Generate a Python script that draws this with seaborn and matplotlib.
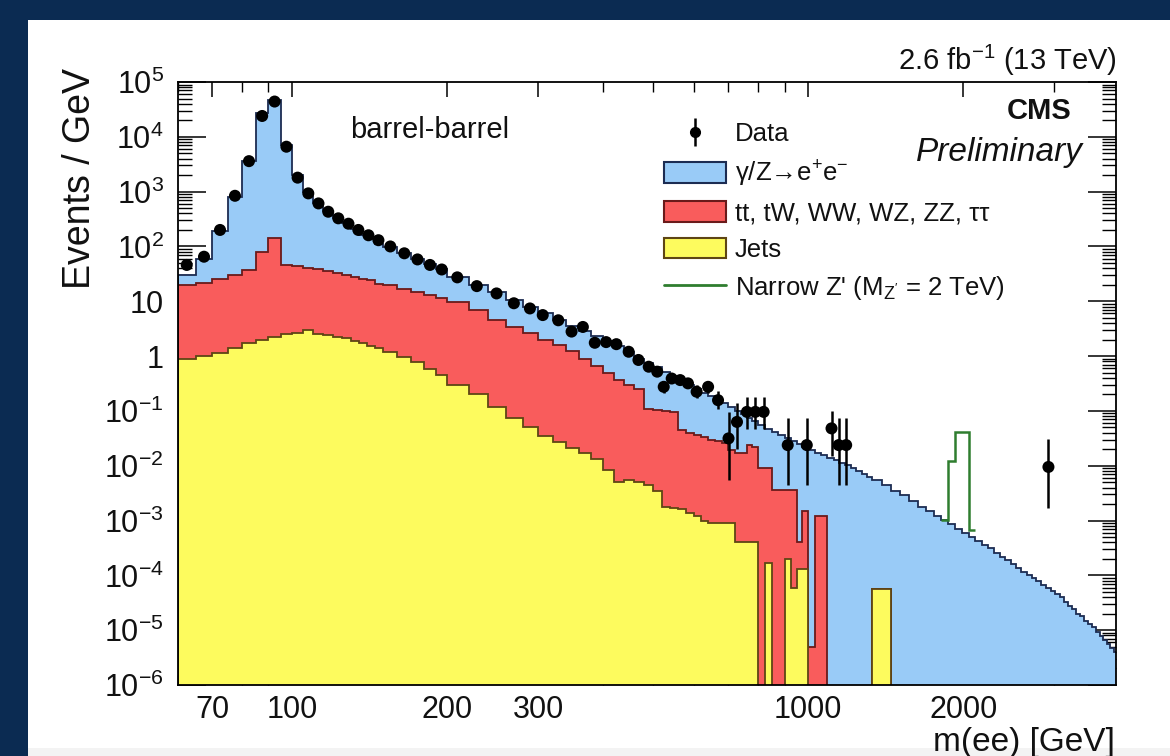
import numpy as np
import matplotlib
matplotlib.use("Agg")
import matplotlib.pyplot as plt
import seaborn as sns
from matplotlib.patches import Patch, Rectangle
from matplotlib.lines import Line2D
from matplotlib.ticker import FixedLocator, FuncFormatter, LogLocator, NullFormatter
from matplotlib.legend_handler import HandlerTuple

sns.set_style("ticks")
plt.rcParams['font.family'] = ['Liberation Sans', 'DejaVu Sans']
plt.rcParams['mathtext.fontset'] = 'custom'
plt.rcParams['mathtext.rm'] = 'Liberation Sans'
plt.rcParams['mathtext.it'] = 'Liberation Sans:italic'
plt.rcParams['mathtext.bf'] = 'Liberation Sans:bold'

# ---------------- data ----------------
# MC bin edges (GeV): 5 GeV to 150, 10 GeV to 200, 20 GeV to 800, 25 GeV to 1000, 30 GeV to 1330, 60 GeV above
bin_edges = np.concatenate([
    np.arange(60, 150, 5), np.arange(150, 200, 10), np.arange(200, 800, 20),
    np.arange(800, 1000, 25), np.arange(1000, 1330, 30), np.arange(1330, 3971, 60)]).astype(float)

# top of the stack: gamma/Z -> ee + ttbar-like + jets  (Events / GeV)
stack_top_dy = [
    30, 60, 190, 810, 3600, 27000, 47000, 7100, 2000, 1000, 620, 440, 330, 265, 205, 165, 135, 112,
    97, 75, 59, 47, 38,
    28, 20, 14.5, 10.5, 7.8, 6.0, 4.6, 3.6, 2.9, 2.3, 1.85, 1.5, 1.2, 0.90, 0.75, 0.62, 0.52, 0.43,
    0.36, 0.30, 0.25, 0.215, 0.185, 0.16, 0.138, 0.118, 0.101, 0.087, 0.075, 0.065,
    0.055, 0.047, 0.041, 0.036, 0.032, 0.028, 0.025, 0.022,
    0.019, 0.0172, 0.0155, 0.0140, 0.0126, 0.0113, 0.0101, 0.0090, 0.0080, 0.0071, 0.0063,
    5.5e-3, 4.4e-3, 3.5e-3, 2.9e-3, 2.3e-3, 1.8e-3, 1.5e-3, 1.23e-3, 1.02e-3, 8.5e-4, 7.1e-4,
    6.0e-4, 5.0e-4, 4.3e-4, 3.6e-4, 3.1e-4, 2.6e-4, 2.2e-4, 1.9e-4, 1.6e-4, 1.38e-4, 1.17e-4,
    1.02e-4, 8.9e-5, 7.8e-5, 6.8e-5, 5.9e-5, 5.1e-5, 4.5e-5, 4.0e-5, 3.3e-5, 2.8e-5, 2.4e-5,
    2.0e-5, 1.78e-5, 1.5e-5, 1.29e-5, 1.12e-5, 9.3e-6, 7.9e-6, 6.6e-6, 5.6e-6, 4.8e-6, 4.0e-6]

# top of ttbar, tW, WW, WZ, ZZ, tautau + jets
stack_top_ttbar = [
    20, 22, 25, 30, 37, 80, 145, 46, 44, 41, 38, 35, 33, 30, 28, 26, 24, 21,
    19.5, 17, 15, 13, 11.5,
    9.5, 7.0, 4.5, 3.4, 2.6, 2.0, 1.6, 1.25, 0.9, 0.65, 0.5, 0.36, 0.30, 0.25, 0.11, 0.105,
    0.098, 0.096, 0.045, 0.040, 0.036, 0.033, 0.030, 0.028, 0.026, 0.019, 0.017, 0.017, 0.024, 0.022,
    9e-3, 9e-3, 3.6e-3, 3.6e-3, 3.6e-3, 3.6e-3, 4e-4, 1.5e-3,
    5e-6, 1.2e-3, 1.2e-3, 0, 0, 0, 0, 0, 0, 0, 0,
    5.6e-5, 5.6e-5, 0, 0, 0, 0, 0, 0, 0, 0, 0, 0, 0, 0, 0, 0, 0, 0, 0, 0, 0, 0,
    0, 0, 0, 0, 0, 0, 0, 0, 0, 0, 0, 0, 0, 0, 0, 0, 0, 0, 0, 0, 0, 0]

# jets
stack_top_jets = [
    0.9, 1.0, 1.15, 1.4, 1.7, 2.0, 2.25, 2.5, 2.6, 3.0, 2.55, 2.4, 2.25, 2.1, 1.9, 1.75, 1.55, 1.4,
    1.2, 0.95, 0.78, 0.58, 0.45,
    0.30, 0.20, 0.12, 0.075, 0.05, 0.035, 0.027, 0.021, 0.017, 0.013, 0.0085, 0.0050, 0.0055,
    0.0050, 0.0045, 0.0035, 0.0018, 0.0017, 0.0016, 0.0014, 0.0012, 0.0010, 0.0009, 0.0009,
    0.0009, 0.0009, 0.0004, 0.0004, 0.0004, 0.0004,
    0, 1.7e-4, 0, 0, 2e-4, 5.8e-5, 1.3e-4, 1.3e-4,
    0, 0, 0, 0, 0, 0, 0, 0, 0, 0, 0,
    5.6e-5, 5.6e-5, 0, 0, 0, 0, 0, 0, 0, 0, 0, 0, 0, 0, 0, 0, 0, 0, 0, 0, 0, 0,
    0, 0, 0, 0, 0, 0, 0, 0, 0, 0, 0, 0, 0, 0, 0, 0, 0, 0, 0, 0, 0, 0]

# narrow Z' (2 TeV) signal, stacked on top of the background
zprime_edges = [1810, 1870, 1930, 1990, 2050, 2110]
zprime_signal = [0.0, 0.0116, 0.040, 0.040, 1.6e-4]

# data points
data_mass = [62.5, 67.5, 72.5, 77.5, 82.5, 87.5, 92.5, 97.5, 102.5, 107.5, 112.5, 117.5,
             122.9, 128.6, 134.4, 140.6, 147.0, 155, 165, 175, 185, 195,
             209, 228, 249, 269, 289, 306, 328, 348, 366, 386, 406, 425, 449, 469, 491, 510,
             525, 544, 565, 585, 608, 640, 669, 701, 728, 761, 790, 820, 913, 994, 1110, 1146,
             1185, 2922]
data_val = [46, 65, 200, 840, 3600, 24000, 44000, 6600, 1800, 930, 610, 430,
            326, 260, 200, 160, 130, 100, 75, 58, 46, 38,
            27.3, 18.9, 13.9, 9.2, 7.4, 5.6, 4.5, 2.8, 3.4, 1.75, 1.8, 1.65, 1.2, 0.85, 0.64, 0.52,
            0.275, 0.39, 0.365, 0.318, 0.224, 0.275, 0.157, 0.0315, 0.063, 0.096, 0.096, 0.096,
            0.0238, 0.0238, 0.048, 0.0238, 0.0238, 0.0095]
data_err_lo = [0] * 22 + [0] * 10 + [0.1, 0.1, 0.08, 0.07, 0.07, 0.06,
               0.06, 0.06, 0.06, 0.06, 0.05, 0.06, 0.05, 0.026, 0.043, 0.05, 0.05, 0.05,
               0.0193, 0.0193, 0.033, 0.0193, 0.0193, 0.0078]
data_err_hi = [0] * 22 + [0] * 10 + [0.12, 0.12, 0.1, 0.09, 0.08, 0.08,
               0.08, 0.08, 0.08, 0.08, 0.07, 0.08, 0.07, 0.065, 0.077, 0.084, 0.084, 0.084,
               0.051, 0.051, 0.052, 0.051, 0.051, 0.0215]

# ---------------- styling ----------------
BLUE, BLUE_EDGE = '#99cbf7', '#1c2c52'
RED, RED_EDGE = '#f95c5c', '#6a1a1a'
YELLOW, YELLOW_EDGE = '#fdfb5e', '#5e4514'
GREEN = '#2f7d2f'
NAVY = '#0b2b52'

W, H = 1170, 756
fig = plt.figure(figsize=(W / 100, H / 100), dpi=100)
fig.patch.set_facecolor(NAVY)
fig.add_artist(Rectangle((28 / W, 0), 1 - 28 / W, 1 - 20 / H, transform=fig.transFigure,
                         facecolor='white', edgecolor='none', zorder=-5))
fig.add_artist(Rectangle((28 / W, 0), 1 - 28 / W, 8 / H, transform=fig.transFigure,
                         facecolor='#f3f3f3', edgecolor='none', zorder=-4))

ax = fig.add_axes([177.6 / W, 1 - 685 / H, (1116 - 177.6) / W, (685 - 82) / H])
ax.set_facecolor('none')
ax.set_xscale('log')
ax.set_yscale('log')

floor = 1e-9
edges = bin_edges


def pos(v):
    v = np.asarray(v, dtype=float)
    return np.where(v > 0, v, floor)


ax.stairs(pos(stack_top_dy), edges, baseline=floor, fill=True, facecolor=BLUE,
          edgecolor=BLUE_EDGE, linewidth=1.3, zorder=2)
ax.stairs(pos(stack_top_ttbar), edges, baseline=floor, fill=True, facecolor=RED,
          edgecolor=RED_EDGE, linewidth=1.3, zorder=3)
ax.stairs(pos(stack_top_jets), edges, baseline=floor, fill=True, facecolor=YELLOW,
          edgecolor=YELLOW_EDGE, linewidth=1.3, zorder=4)

# Z' on top of background
idx = np.searchsorted(edges, np.array(zprime_edges[:-1], dtype=float))
zp_total = np.asarray(stack_top_dy)[idx] + np.asarray(zprime_signal)
ax.stairs(zp_total, zprime_edges, baseline=None, color=GREEN, linewidth=1.8, zorder=5)

# data
ax.errorbar(data_mass, data_val, yerr=[data_err_lo, data_err_hi], fmt='none',
            ecolor='black', elinewidth=1.8, capsize=0, zorder=6)
sns.scatterplot(x=data_mass, y=data_val, color='black', s=75, edgecolor='none',
                ax=ax, zorder=7, legend=False)

ax.set_xlim(60, 3950)
ax.set_ylim(1e-6, 1e5)

# ticks
ax.xaxis.set_major_locator(FixedLocator([70, 100, 200, 300, 1000, 2000]))
ax.xaxis.set_minor_locator(FixedLocator([60, 80, 90, 400, 500, 600, 700, 800, 900, 3000]))
ax.xaxis.set_major_formatter(FuncFormatter(lambda v, p: f"{int(round(v))}"))
ax.xaxis.set_minor_formatter(NullFormatter())
ax.yaxis.set_major_locator(LogLocator(base=10, numticks=20))
ax.yaxis.set_minor_locator(LogLocator(base=10, subs=np.arange(2, 10), numticks=200))
ax.yaxis.set_minor_formatter(NullFormatter())


def yfmt(v, p):
    e = int(round(np.log10(v)))
    if e == 0:
        return "1"
    if e == 1:
        return "10"
    return r"$10^{%d}$" % e


ax.yaxis.set_major_formatter(FuncFormatter(yfmt))

ax.tick_params(axis='both', which='both', direction='in', top=True, right=True, colors='black',
               labelcolor='#111111')
ax.tick_params(axis='y', which='major', length=20, width=1.1, labelsize=22, pad=10)
ax.tick_params(axis='y', which='minor', length=10, width=1.0)
ax.tick_params(axis='x', which='major', length=11, width=1.1, labelsize=22, pad=7)
ax.tick_params(axis='x', which='minor', length=7, width=1.0)
for s in ax.spines.values():
    s.set_linewidth(1.3)
    s.set_color('black')
    s.set_zorder(10)

# texts
fig.text(80 / W, 1 - 68 / H, 'Events / GeV', rotation=90, ha='center', va='top',
         fontsize=27, color='#111111')
fig.text(1115 / W, 1 - 742 / H, 'm(ee) [GeV]', ha='right', va='center', fontsize=24,
         color='#111111')
fig.text(1117 / W, 1 - 60 / H, r'2.6 fb$^{-1}$ (13 TeV)', ha='right', va='center',
         fontsize=21, color='#111111')
fig.text(1071 / W, 1 - 111 / H, 'CMS', ha='right', va='center', fontsize=21,
         fontweight='bold', color='#111111')
fig.text(1083 / W, 1 - 153 / H, 'Preliminary', ha='right', va='center', fontsize=24,
         style='italic', color='#111111')
fig.text(430 / W, 1 - 130 / H, 'barrel-barrel', ha='center', va='center', fontsize=21,
         color='#111111')

# legend
h_data = (Line2D([], [], marker='o', ls='none', color='black', ms=7),
          Line2D([], [], marker='|', ls='none', color='black', ms=20, mew=1.8))
handles = [h_data,
           Patch(facecolor=BLUE, edgecolor=BLUE_EDGE, linewidth=1.5),
           Patch(facecolor=RED, edgecolor=RED_EDGE, linewidth=1.5),
           Patch(facecolor=YELLOW, edgecolor=YELLOW_EDGE, linewidth=1.5),
           Line2D([], [], color=GREEN, lw=2)]
labels = ['Data', r'γ/Z→e$^{+}$e$^{-}$', 'tt, tW, WW, WZ, ZZ, ττ', 'Jets',
          r"Narrow Z' (M$_{\mathregular{Z'}}$ = 2 TeV)"]
fig.legend(handles, labels, loc='upper left', bbox_to_anchor=(664 / W, 1 - 122 / H),
           frameon=False, fontsize=18.5, handlelength=2.4, handleheight=0.85,
           handletextpad=0.35, labelspacing=0.48, borderpad=0, borderaxespad=0,
           handler_map={tuple: HandlerTuple(ndivide=1)}, labelcolor='#111111')

fig.savefig('out.png', dpi=100, facecolor=fig.get_facecolor())
